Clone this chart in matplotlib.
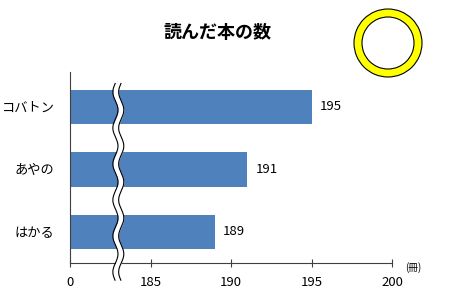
import numpy as np
import matplotlib
matplotlib.use('Agg')
import matplotlib.pyplot as plt
from matplotlib.patches import Annulus

plt.rcParams['font.family'] = ['Noto Sans CJK JP', 'DejaVu Sans']

# data (bottom to top)
names = ['はかる', 'あやの', 'コバトン']
books = [189, 191, 195]
xticks = [180, 185, 190, 195, 200]
xticklabels = ['0', '185', '190', '195', '200']
brk = 183  # where the axis is cut

fig = plt.figure(figsize=(4.5, 3), dpi=100)
ax = fig.add_axes([0.1556, 0.1233, 0.7156, 0.6367])

bars = ax.barh(names, books, left=0, height=0.55, color='#4F81BD', zorder=2)
ax.bar_label(bars, padding=6, fontsize=9.5)

ax.set_xlim(xticks[0], xticks[-1])
ax.set_ylim(-0.5, 2.56)
ax.set_xticks(xticks)
ax.set_xticklabels(xticklabels, fontsize=9.5)
ax.tick_params(axis='x', direction='inout', length=6, width=0.8, color='#404040', pad=6)
ax.tick_params(axis='y', length=0, pad=11, labelsize=9.5)

for s in ['top', 'right']:
    ax.spines[s].set_visible(False)
for s in ['left', 'bottom']:
    ax.spines[s].set_color('#404040')
    ax.spines[s].set_linewidth(0.8)

fig.text(218 / 450, 1 - 32 / 300, '読んだ本の数', fontsize=13, fontweight='bold',
         ha='center', va='center')

# wavy break mark
c = (brk - xticks[0]) / (xticks[-1] - xticks[0])
yy = np.linspace(-0.09, 0.94, 300)
wave = 0.008 * np.sin(yy * 191 / 36 * 2 * np.pi)
hw = 0.009
xl = c - hw + wave
xr = c + hw + wave
ax.fill_betweenx(yy, xl, xr, color='white', transform=ax.transAxes,
                 clip_on=False, zorder=5, lw=0)
ax.plot(xl, yy, color='black', lw=0.8, transform=ax.transAxes, clip_on=False, zorder=6)
ax.plot(xr, yy, color='black', lw=0.8, transform=ax.transAxes, clip_on=False, zorder=6)

# unit
fig.text(405 / 450, 1 - 268 / 300, '(冊)', fontsize=7, va='center', ha='left')

# yellow ring
ring = Annulus((3.88, 2.57), 0.34, 0.08, facecolor='#FFFF00', edgecolor='black',
               lw=0.8, transform=fig.dpi_scale_trans)
fig.add_artist(ring)

fig.savefig('out.png', dpi=100)
